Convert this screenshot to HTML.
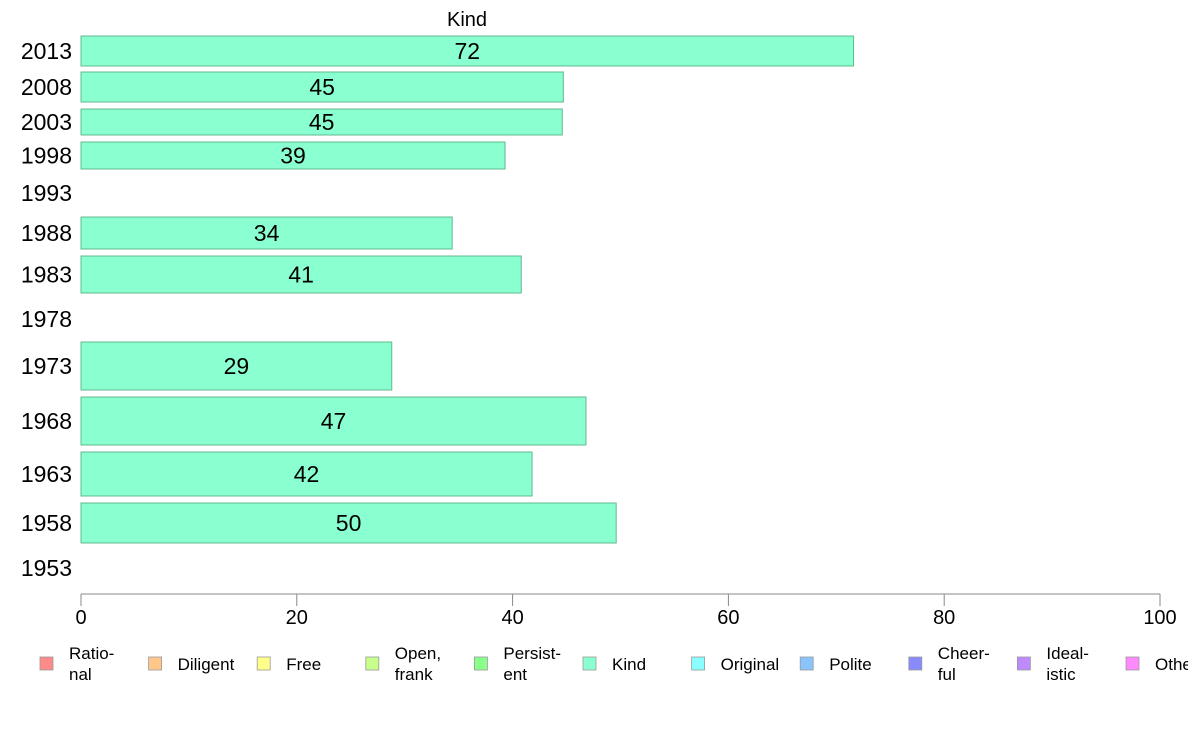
<!DOCTYPE html>
<html><head><meta charset="utf-8"><style>
body{margin:0;background:#fff;font-family:"Liberation Sans",sans-serif}
svg text{font-family:"Liberation Sans",sans-serif}
</style></head><body>
<svg width="1188" height="736" id="c"></svg>
<script>
const years=["2013","2008","2003","1998","1993","1988","1983","1978","1973","1968","1963","1958","1953"];
const values=[71.6,44.7,44.6,39.3,null,34.4,40.8,null,28.8,46.8,41.8,49.6,null];
const xTicks=[0,20,40,60,80,100];
const legendLabels=[["Ratio-","nal"],["Diligent"],["Free"],["Open,","frank"],["Persist-","ent"],["Kind"],["Original"],["Polite"],["Cheer-","ful"],["Ideal-","istic"],["Other"]];
const legendColors=["#ff8a8a","#ffc88a","#ffff8a","#c8ff8a","#8aff8a","#8affd0","#8affff","#8ac4ff","#8a8aff","#c08aff","#ff8aff"];
// layout (row bands, pixels)
const bandTop=[36,72,109,142,176,217,256,300,342,397,452,503,550];
const bandBot=[66,102,135,169,210,249,293,338,390,445,496,543,586];
const NS="http://www.w3.org/2000/svg";
const svg=document.getElementById('c');
function el(t,a,txt){const e=document.createElementNS(NS,t);for(const k in a)e.setAttribute(k,a[k]);if(txt!=null)e.textContent=txt;svg.appendChild(e);return e;}
const x0=81,x1=1160;
const xs=v=>x0+(v/100)*(x1-x0);
let t=el('text',{x:467,y:26,'font-size':20,'text-anchor':'middle'},'Kind');


years.forEach((y,i)=>{
  const yc=(bandTop[i]+bandBot[i])/2;
  const lab=el('text',{x:72,y:yc+8,'font-size':23,'text-anchor':'end'},y);
  
  
  const v=values[i];
  if(v!=null){
    const r=el('rect',{x:x0,y:bandTop[i],width:xs(v)-x0,height:bandBot[i]-bandTop[i],fill:'#8affd0',stroke:'#60b890','stroke-width':1});
    
    
    const vl=el('text',{x:(x0+xs(v))/2,y:yc+8,'font-size':23,'text-anchor':'middle'},String(Math.round(v)));
    
    
  }
});
const ax=el('line',{x1:x0,x2:x1,y1:594,y2:594,stroke:'#888','stroke-width':1});


xTicks.forEach(v=>{
  const tk=el('line',{x1:xs(v),x2:xs(v),y1:594,y2:606,stroke:'#888'});
  
  
  const tl=el('text',{x:xs(v),y:624,'font-size':20,'text-anchor':'middle'},String(v));
  
  
});
legendLabels.forEach((l,i)=>{
  const lx=40+i*108.6;
  const sq=el('rect',{x:lx,y:657,width:13,height:13,fill:legendColors[i],stroke:'#999','stroke-width':0.8});
  
  
  const tx=el('text',{x:lx+29,y:l.length==1?670:659,'font-size':17},null);
  
  
  l.forEach((s,j)=>{const ts=document.createElementNS(NS,'tspan');ts.setAttribute('x',lx+29);if(j>0)ts.setAttribute('dy',21);ts.textContent=s;tx.appendChild(ts);});
});
</script>
</body></html>
